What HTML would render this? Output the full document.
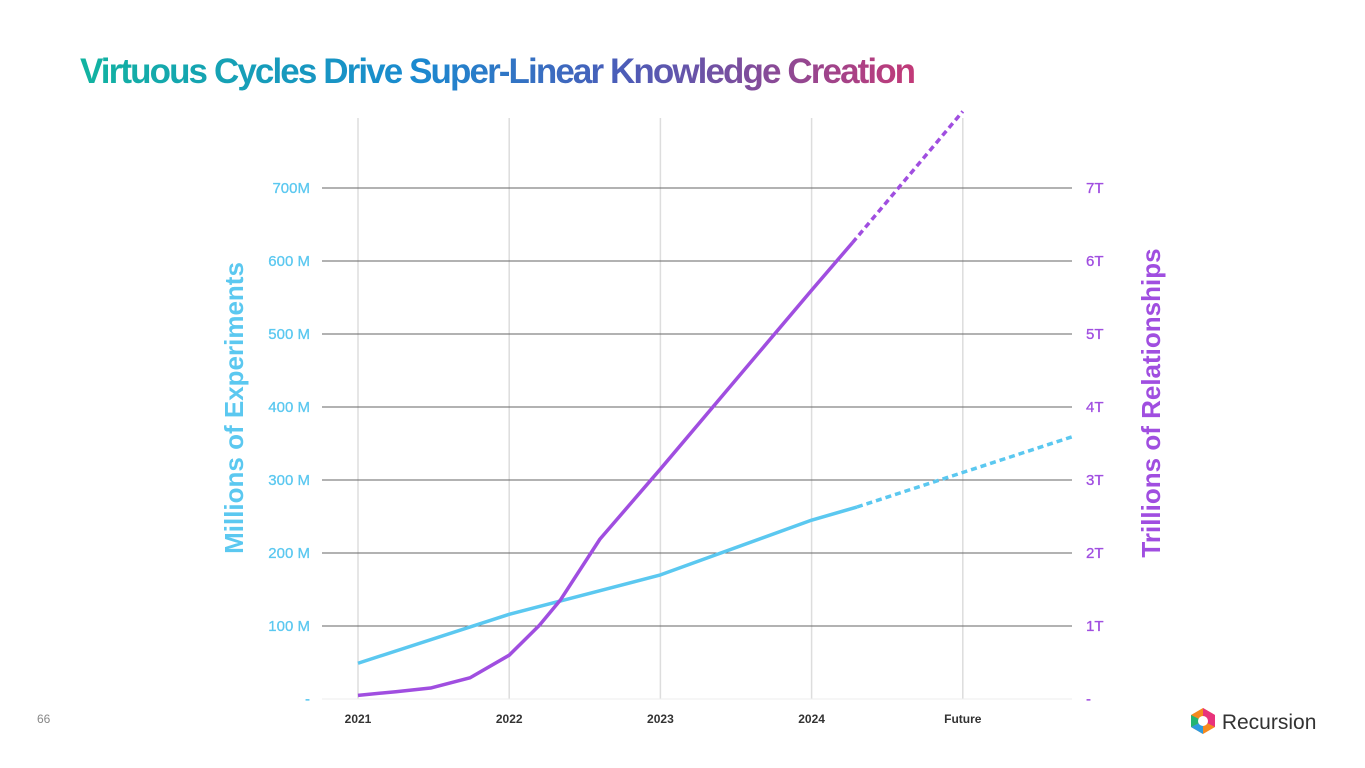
<!DOCTYPE html>
<html><head><meta charset="utf-8"><style>
body{margin:0;width:1365px;height:768px;background:#fff;overflow:hidden;font-family:"Liberation Sans",sans-serif;position:relative}
#title{position:absolute;left:80px;top:52px;font-size:35px;font-weight:bold;letter-spacing:-1.9px;margin:0;
background:linear-gradient(90deg,#12b3a0 0%,#1a8ad0 40%,#4b5cb8 65%,#c23a78 100%);-webkit-background-clip:text;background-clip:text;color:transparent}
#pg{position:absolute;left:37px;top:712px;font-size:12px;color:#888}
#logo{position:absolute;left:1190px;top:707px;font-size:21px;color:#333}
</style></head><body>
<h1 id="title">Virtuous Cycles Drive Super-Linear Knowledge Creation</h1>
<div id="pg">66</div>
<div id="logo"><svg width="26" height="28" viewBox="0 0 26 28" style="vertical-align:-6px"><polygon points="13,1 25,8 25,20 13,27 1,20 1,8" fill="#f58a1f"/><polygon points="13,1 25,8 25,20 13,14" fill="#e8327c"/><polygon points="1,20 13,27 13,14" fill="#2d9be0"/><polygon points="1,8 13,14 1,20" fill="#22b573"/><circle cx="13" cy="14" r="5" fill="#fff"/></svg> Recursion</div>
<svg id="chart" width="1365" height="768" style="position:absolute;left:0;top:0"></svg>
<script>
const years=['2021','2022','2023','2024','Future'];
const leftTicks=['-','100 M','200 M','300 M','400  M','500 M','600 M','700M'];
const rightTicks=['-','1T','2T','3T','4T','5T','6T','7T'];
const expX=[0,1,2,3,3.3];
const expVals=[49,116,170,245,263];
const expFutX=[3.3,4.72];
const expFutVals=[263,359];
const relX=[0,0.25,0.48,0.74,1.0,1.2,1.34,1.6,2.0,3.0,3.27];
const relVals=[0.05,0.1,0.15,0.29,0.6,1.01,1.36,2.19,3.15,5.6,6.25];
const relFutX=[3.27,4.0];
const relFutVals=[6.25,8.05];
const NS='http://www.w3.org/2000/svg';
const svg=document.getElementById('chart');
const xs=i=>358+i*151.2;
const yM=v=>699-v*0.73;
const yT=v=>699-v*73;
function mk(t,a){const e=document.createElementNS(NS,t);for(const k in a)e.setAttribute(k,a[k]);svg.appendChild(e);return e;}
years.forEach((y,i)=>{
const l=mk('line',{x1:xs(i),x2:xs(i),y1:118,y2:699,stroke:'#ddd','stroke-width':1.5});


const t=mk('text',{x:xs(i),y:723,'text-anchor':'middle','font-size':12,'font-weight':'bold',fill:'#333'});t.textContent=y;


});
leftTicks.forEach((s,i)=>{
const y=yM(i*100);
const l=mk('line',{x1:322,x2:1072,y1:y,y2:y,stroke:i==0?'#eee':'#666','stroke-width':1});


const t=mk('text',{x:310,y:y+5,'text-anchor':'end','font-size':15,fill:'#5bc8f0','stroke':'#5bc8f0','stroke-width':0.3});t.textContent=s;


const r=mk('text',{x:1086,y:y+5,'font-size':15,fill:'#a04ee0','stroke':'#a04ee0','stroke-width':0.3});r.textContent=rightTicks[i];


});
function path(X,V,yf,col,dash,name){
const p=mk('path',{d:X.map((x,i)=>(i?'L':'M')+xs(x)+','+yf(V[i])).join(''),fill:'none',stroke:col,'stroke-width':3.5,'stroke-linejoin':'round','stroke-dasharray':dash||'none'});

}
path(expX,expVals,yM,'#5bc8f0',null,'experiments-line');
path(expFutX,expFutVals,yM,'#5bc8f0','6 4','experiments-future-line');
path(relX,relVals,yT,'#a04ee0',null,'relationships-line');
path(relFutX,relFutVals,yT,'#a04ee0','6 4','relationships-future-line');
const a=mk('text',{x:0,y:0,transform:'translate(243,408) rotate(-90)','text-anchor':'middle','font-size':26,'font-weight':'bold',fill:'#5bc8f0'});a.textContent='Millions of Experiments';


const b=mk('text',{x:0,y:0,transform:'translate(1160,403) rotate(-90)','text-anchor':'middle','font-size':26,'font-weight':'bold',fill:'#a04ee0'});b.textContent='Trillions of Relationships';


</script>
</body></html>
